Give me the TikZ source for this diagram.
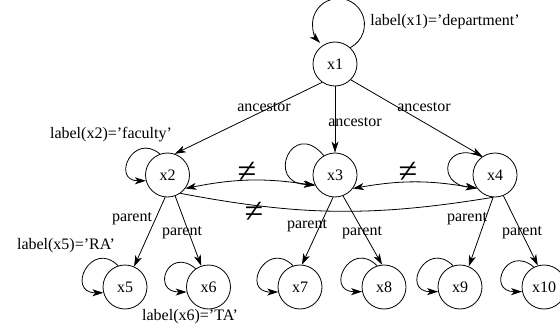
\documentclass[tikz,border=0pt]{standalone}
\usepackage{fontspec}
\setmainfont{Liberation Serif}
\usetikzlibrary{arrows.meta}
\begin{document}
\begin{tikzpicture}[x=1pt,y=1pt,
  font=\fontsize{16}{19}\selectfont,
  vtx/.style={circle,draw,line width=0.8pt,minimum size=44pt,inner sep=0pt},
  arr/.style={line width=0.8pt,-{Stealth[length=11pt,width=7pt,inset=3pt]}},
  barr/.style={line width=0.8pt,{Stealth[length=11pt,width=7pt,inset=3pt]}-{Stealth[length=11pt,width=7pt,inset=3pt]}},
  plain/.style={line width=0.8pt},
  lbl/.style={inner sep=0pt},
  neq/.style={inner sep=0pt,font=\fontsize{34}{34}\selectfont}]
\useasboundingbox (0,0) rectangle (560,-329);
\clip (0,0) rectangle (560,-329);
% nodes
\node[vtx] (x1) at (335,-64) {x1};
\node[vtx] (x2) at (167.5,-175) {x2};
\node[vtx] (x3) at (335,-175) {x3};
\node[vtx] (x4) at (495,-175) {x4};
\node[vtx] (x5) at (125,-287) {x5};
\node[vtx] (x6) at (208.5,-287) {x6};
\node[vtx] (x7) at (300,-287) {x7};
\node[vtx] (x8) at (384,-287) {x8};
\node[vtx] (x9) at (460,-287) {x9};
\node[vtx] (x10) at (544,-287) {x10};
% labels
\node[lbl] (l1) at (445,-22) {label(x1)='department'};
\node[lbl] (l2) at (111,-135) {label(x2)='faculty'};
\node[lbl] (l5) at (66,-246) {label(x5)='RA'};
\node[lbl] (l6) at (190,-317) {label(x6)='TA'};
% self loops
\draw[arr] (x1.47) arc[start angle=-63,end angle=225,radius=26];
\draw[arr] (x2.110) to[out=140,in=180,distance=35] (x2.195);
\draw[arr] (x3.120) to[out=130,in=180,distance=50] (x3.205);
\draw[arr] (x4.126) to[out=155,in=175,distance=42] (x4.215);
\draw[arr] (x5.108) to[out=135,in=180,distance=38] (x5.195);
\draw[arr] (x6.125) to[out=140,in=180,distance=36] (x6.193);
\draw[arr] (x7.108) to[out=135,in=180,distance=38] (x7.193);
\draw[arr] (x8.108) to[out=135,in=180,distance=38] (x8.192);
\draw[arr] (x9.108) to[out=135,in=180,distance=38] (x9.192);
\draw[arr] (x10.117) to[out=140,in=180,distance=36] (x10.192);
% ancestor edges
\draw[arr] (x1.-125) -- (x2.71);
\draw[arr] (x1.south) -- (x3.north);
\draw[arr] (x1.-45) -- (x4.124);
\node[lbl] (a1) at (264,-107) {ancestor};
\node[lbl] (a2) at (355,-122) {ancestor};
\node[lbl] (a3) at (424,-107) {ancestor};
% parent edges
\draw[arr] (x2.-96) -- (x5.66);
\draw[arr] (x2.-70) -- (x6.109);
\draw[arr] (x3.-95) -- (x7.85);
\draw[arr] (x3.-69) -- (x8.95);
\draw[arr] (x4.-95) -- (x9.67);
\draw[arr] (x4.-68) -- (x10.106);
\node[lbl] (p1) at (132,-219) {parent};
\node[lbl] (p2) at (182,-233) {parent};
\node[lbl] (p3) at (307,-226) {parent};
\node[lbl] (p4) at (362,-233) {parent};
\node[lbl] (p5) at (467,-219) {parent};
\node[lbl] (p6) at (522,-233) {parent};
% inequality edges
\draw[barr] (x2.-37) to[bend left=10] (x3.208);
\draw[barr] (x3.-37) to[bend left=10] (x4.217);
\draw[plain] (x2.-55) to[bend right=10] (x4.-95);
\node[neq] (n1) at (247,-172) {≠};
\node[neq] (n2) at (408,-172) {≠};
\node[neq] (n3) at (254,-212) {≠};
\end{tikzpicture}
\end{document}
